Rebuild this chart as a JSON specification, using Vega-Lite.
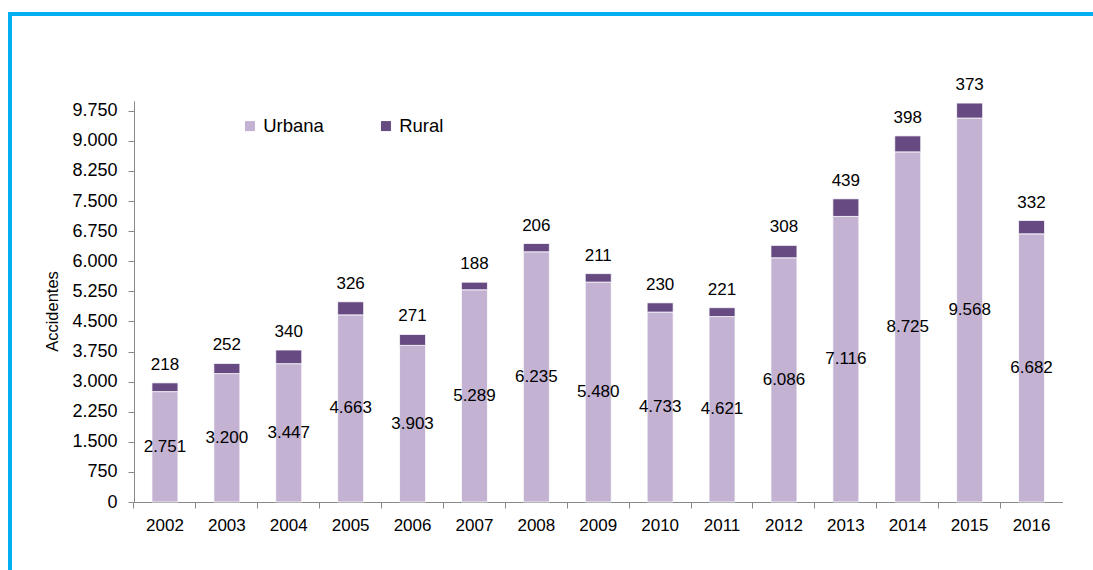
{
  "$schema": "https://vega.github.io/schema/vega-lite/v6.json",
  "width": 1083,
  "height": 556,
  "autosize": {"type": "none"},
  "padding": {"left": 10, "top": 14, "right": 0, "bottom": 0},
  "background": "white",
  "config": {
    "locale": {"number": {"decimal": ",", "thousands": ".", "grouping": [3], "currency": ["", " €"]}},
    "view": {"stroke": "#00B0F0", "strokeWidth": 4, "strokeDash": [1083, 1639, 556]},
    "font": "Liberation Sans"
  },
  "data": {
    "values": [
      {"year": "2002", "type": "Urbana", "value": 2751}, {"year": "2002", "type": "Rural", "value": 218},
      {"year": "2003", "type": "Urbana", "value": 3200}, {"year": "2003", "type": "Rural", "value": 252},
      {"year": "2004", "type": "Urbana", "value": 3447}, {"year": "2004", "type": "Rural", "value": 340},
      {"year": "2005", "type": "Urbana", "value": 4663}, {"year": "2005", "type": "Rural", "value": 326},
      {"year": "2006", "type": "Urbana", "value": 3903}, {"year": "2006", "type": "Rural", "value": 271},
      {"year": "2007", "type": "Urbana", "value": 5289}, {"year": "2007", "type": "Rural", "value": 188},
      {"year": "2008", "type": "Urbana", "value": 6235}, {"year": "2008", "type": "Rural", "value": 206},
      {"year": "2009", "type": "Urbana", "value": 5480}, {"year": "2009", "type": "Rural", "value": 211},
      {"year": "2010", "type": "Urbana", "value": 4733}, {"year": "2010", "type": "Rural", "value": 230},
      {"year": "2011", "type": "Urbana", "value": 4621}, {"year": "2011", "type": "Rural", "value": 221},
      {"year": "2012", "type": "Urbana", "value": 6086}, {"year": "2012", "type": "Rural", "value": 308},
      {"year": "2013", "type": "Urbana", "value": 7116}, {"year": "2013", "type": "Rural", "value": 439},
      {"year": "2014", "type": "Urbana", "value": 8725}, {"year": "2014", "type": "Rural", "value": 398},
      {"year": "2015", "type": "Urbana", "value": 9568}, {"year": "2015", "type": "Rural", "value": 373},
      {"year": "2016", "type": "Urbana", "value": 6682}, {"year": "2016", "type": "Rural", "value": 332}
    ]
  },
  "layer": [
    {
      "layer": [
        {
          "mark": {"type": "bar", "stroke": "#ffffff", "strokeWidth": 0.75},
          "encoding": {
            "x": {
              "field": "year", "type": "nominal", "sort": null,
              "scale": {"range": [124, 1052.5], "paddingInner": 0.58, "paddingOuter": 0.29},
              "axis": {
                "title": null, "labelAngle": 0, "offset": -68,
                "domainColor": "#898989", "tickColor": "#898989", "tickSize": 6,
                "labelFontSize": 17, "labelColor": "#000000", "labelPadding": 9,
                "bandPosition": -0.6905
              }
            },
            "y": {
              "field": "value", "type": "quantitative", "stack": "zero",
              "scale": {"domain": [0, 10000], "range": [488, 86.7], "nice": false, "zero": true},
              "axis": {
                "title": "Accidentes",
                "values": [0, 750, 1500, 2250, 3000, 3750, 4500, 5250, 6000, 6750, 7500, 8250, 9000, 9750],
                "format": ",d", "offset": -124, "grid": false,
                "domainColor": "#898989", "tickColor": "#898989", "tickSize": 6,
                "labelFontSize": 18, "labelColor": "#000000", "labelPadding": 11,
                "titleFontSize": 16.5, "titleFontWeight": "normal", "titleColor": "#000000",
                "titleX": -82, "titleY": 297, "titleAngle": -90, "titleBaseline": "middle", "titleAlign": "center"
              }
            },
            "color": {
              "field": "type", "type": "nominal",
              "scale": {"domain": ["Urbana", "Rural"], "range": ["#C3B2D2", "#674A82"]},
              "legend": {
                "title": null, "orient": "none", "direction": "horizontal",
                "legendX": 230.7, "legendY": 102.7, "padding": 0,
                "symbolType": "square", "symbolSize": 100, "symbolStrokeWidth": 0,
                "labelFontSize": 18.5, "labelColor": "#000000", "labelOffset": 4,
                "columnPadding": 52
              }
            },
            "order": {"field": "type", "sort": "descending"}
          }
        },
        {
          "mark": {"type": "text", "baseline": "alphabetic", "dy": -13, "fontSize": 17, "color": "#000000"},
          "encoding": {
            "x": {"field": "year", "type": "nominal", "sort": null},
            "y": {"field": "value", "type": "quantitative", "stack": "zero"},
            "detail": {"field": "type"},
            "order": {"field": "type", "sort": "descending"},
            "text": {"condition": {"test": "datum.type === 'Rural'", "field": "value", "format": ",d"}, "value": ""}
          }
        }
      ]
    },
    {
      "transform": [{"filter": "datum.type === 'Urbana'"}],
      "mark": {"type": "text", "baseline": "middle", "fontSize": 17, "color": "#000000"},
      "encoding": {
        "x": {"field": "year", "type": "nominal", "sort": null},
        "y": {
          "field": "value", "type": "quantitative",
          "scale": {"domain": [0, 20000], "range": [488, 86.7], "nice": false},
          "axis": null
        },
        "text": {"field": "value", "type": "quantitative", "format": ",d"}
      }
    }
  ],
  "resolve": {"scale": {"y": "independent"}}
}
